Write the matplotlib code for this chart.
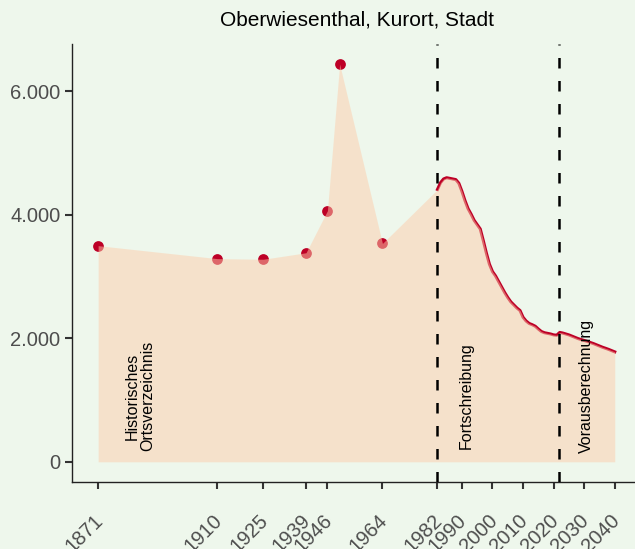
import matplotlib
matplotlib.use("Agg")
import matplotlib.pyplot as plt
import matplotlib.transforms as mtransforms
import numpy as np

# --- Daten ---
jahre_hist = [1871, 1910, 1925, 1939, 1946, 1950, 1964]
einw_hist = [3500, 3290, 3280, 3385, 4066, 6440, 3536]

jahre_fort = list(range(1982, 2041))
einw_fort = [4410, 4520, 4580, 4600, 4590, 4580, 4570, 4510, 4380, 4230,
             4100, 4010, 3910, 3840, 3770, 3580, 3380, 3200, 3080, 3010,
             2920, 2830, 2740, 2660, 2590, 2540, 2490, 2450, 2340, 2280,
             2240, 2220, 2195, 2150, 2110, 2090, 2080, 2070, 2055, 2050,
             2095, 2085, 2070, 2055, 2035, 2015, 1995, 1980, 1965, 1950,
             1932, 1915, 1895, 1875, 1855, 1838, 1820, 1800, 1780]

tick_jahre = [1871, 1910, 1925, 1939, 1946, 1964, 1982, 1990, 2000, 2010, 2020, 2030, 2040]
grenzen = [1982, 2021.7]
titel = "Oberwiesenthal, Kurort, Stadt"

BG = "#eef7ec"
ROT = "#bd0026"
FLAECHE = "#fdcdac"

plt.rcParams['font.family'] = ['Liberation Sans', 'DejaVu Sans']

fig = plt.figure(figsize=(6.35, 5.49), dpi=100, facecolor=BG)
ax = fig.add_axes([72.3 / 635, 1 - 481.7 / 549, (640.6 - 72.3) / 635, (481.7 - 44.2) / 549])
ax.set_facecolor(BG)

alle_jahre = jahre_hist + jahre_fort
alle_werte = einw_hist + einw_fort

# Linie und Punkte unter der Fläche
ax.plot(jahre_fort, einw_fort, color=ROT, lw=2.2, zorder=2)
ax.scatter(jahre_hist, einw_hist, s=60, color=ROT, zorder=2, linewidths=0)
ax.fill_between(alle_jahre, 0, alle_werte, color=FLAECHE, alpha=0.5, lw=0, zorder=3)

for g in grenzen:
    ax.axvline(g, color="black", lw=1.8, linestyle=(0, (4.2, 5.0)), zorder=4)

txt = dict(rotation=90, ha="center", va="bottom", fontsize=11.5, color="black", zorder=5)
ax.text(1884.7, 170, "Historisches\nOrtsverzeichnis", linespacing=1.1, **txt)
ax.text(1991.5, 210, "Fortschreibung", **txt)
ax.text(2030.8, 150, "Vorausberechnung", **txt)

ax.set_xlim(1862.55, 2048.45)
ax.set_ylim(-322, 6762)
ax.set_yticks([0, 2000, 4000, 6000])
ax.set_yticklabels(["0", "2.000", "4.000", "6.000"])
ax.set_xticks(tick_jahre)
ax.set_xticklabels([str(j) for j in tick_jahre], rotation=45, ha="right",
                   va="top", rotation_mode="anchor")

for s in ["top", "right"]:
    ax.spines[s].set_visible(False)
for s in ["left", "bottom"]:
    ax.spines[s].set_color("#222222")
    ax.spines[s].set_linewidth(1.0)

ax.tick_params(axis="both", colors="#333333", width=1.5, length=5,
               labelsize=14.5, labelcolor="#4d4d4d")
ax.tick_params(axis="x", pad=16)

# Beschriftungen etwas nach links schieben
verschub = mtransforms.ScaledTranslation(-5 / 100, 0, fig.dpi_scale_trans)
for lbl in ax.get_xticklabels():
    lbl.set_transform(lbl.get_transform() + verschub)

fig.text(356.5 / 635, 1 - 20 / 549, titel, ha="center", va="center", fontsize=15)

fig.savefig("out.png", dpi=100, facecolor=BG)
